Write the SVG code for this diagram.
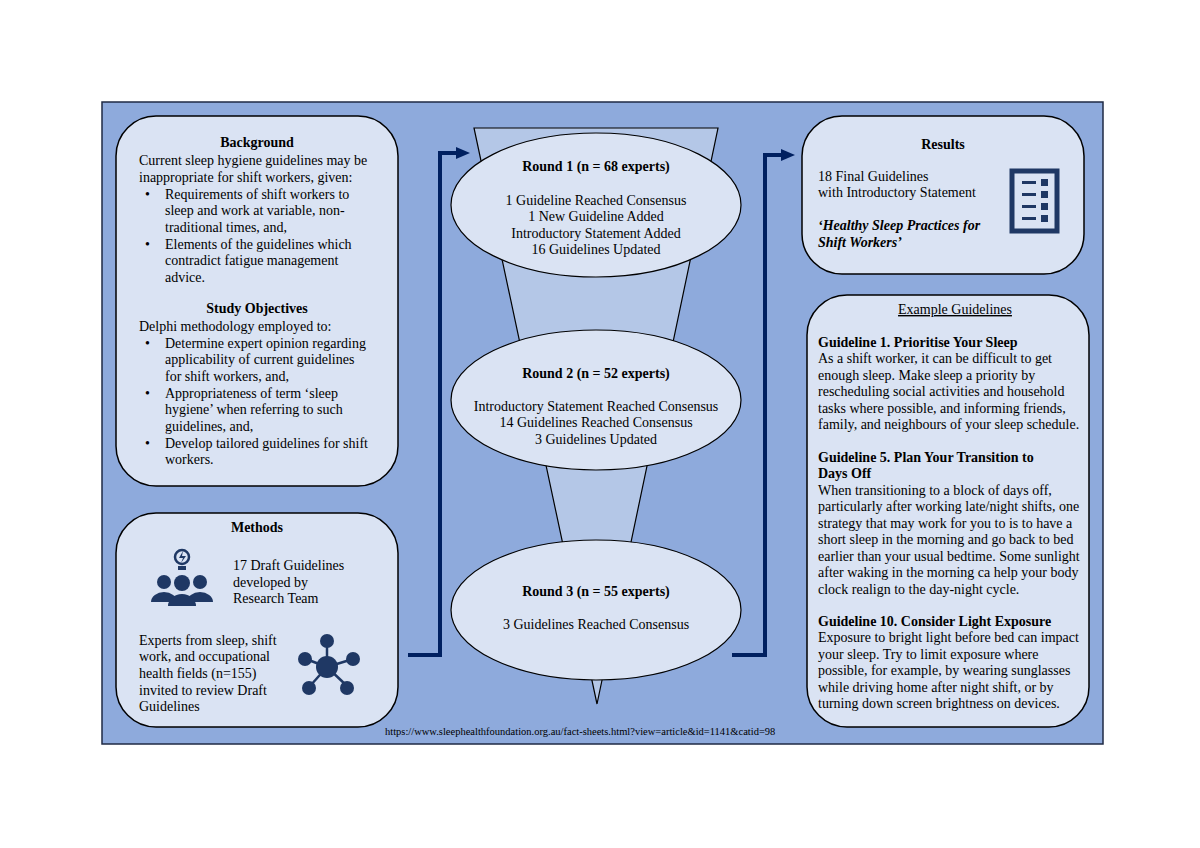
<svg xmlns="http://www.w3.org/2000/svg" width="1200" height="848" viewBox="0 0 1200 848">
<style>
text{font-family:"Liberation Serif",serif;font-size:14px;fill:#000}
.b{font-weight:bold}
.c{text-anchor:middle}
.box{fill:#dae3f3;stroke:#000;stroke-width:1.5}
.el{fill:#dae3f3;stroke:#000;stroke-width:1.2}
.ic{fill:#1f3864}
.conn{fill:none;stroke:#002060;stroke-width:4}
</style>
<defs><marker id="ah" markerWidth="14" markerHeight="14" refX="2" refY="7" orient="auto" markerUnits="userSpaceOnUse"><path d="M0,1 L14,7 L0,13 z" fill="#002060"/></marker></defs>
<rect width="1200" height="848" fill="#fff"/>
<rect x="102" y="102" width="1001" height="642" fill="#8eaadc" stroke="#1f2a44" stroke-width="1.5"/>
<polygon points="474,128 718,128 597,704" fill="#b4c7e7" stroke="#000" stroke-width="1.2"/>
<g id="connectors">
<path class="conn" d="M408,655 H440 V153 H458" marker-end="url(#ah)"/>
<path class="conn" d="M732,655 H765 V155 H783" marker-end="url(#ah)"/>
</g>
<g id="background">
<rect class="box" x="116" y="116" width="282" height="370" rx="40"/>
<text class="b c" x="257" y="147">Background</text>
<text x="139" y="165">Current sleep hygiene guidelines may be</text>
<text x="139" y="182">inappropriate for shift workers, given:</text>
<text x="145" y="199">•</text><text x="165" y="199">Requirements of shift workers to</text>
<text x="165" y="215">sleep and work at variable, non-</text>
<text x="165" y="232">traditional times, and,</text>
<text x="145" y="249">•</text><text x="165" y="249">Elements of the guidelines which</text>
<text x="165" y="265">contradict fatigue management</text>
<text x="165" y="282">advice.</text>
<text class="b c" x="257" y="313">Study Objectives</text>
<text x="139" y="331">Delphi methodology employed to:</text>
<text x="145" y="348">•</text><text x="165" y="348">Determine expert opinion regarding</text>
<text x="165" y="364">applicability of current guidelines</text>
<text x="165" y="381">for shift workers, and,</text>
<text x="145" y="398">•</text><text x="165" y="398">Appropriateness of term ‘sleep</text>
<text x="165" y="414">hygiene’ when referring to such</text>
<text x="165" y="431">guidelines, and,</text>
<text x="145" y="448">•</text><text x="165" y="448">Develop tailored guidelines for shift</text>
<text x="165" y="464">workers.</text>
</g>
<g id="methods">
<rect class="box" x="116" y="513" width="282" height="214" rx="40"/>
<text class="b c" x="257" y="532">Methods</text>
<g class="ic">
<circle cx="182" cy="557" r="7" fill="none" stroke="#1f3864" stroke-width="2.5"/>
<rect x="178" y="566" width="8" height="4"/>
<path d="M183,551 L179,558 H183 L181,563 L186,556 H182 z"/>
<circle cx="164" cy="582" r="7"/><circle cx="200" cy="582" r="7"/><circle cx="182" cy="583" r="8"/>
<path d="M151,602 a13,10 0 0 1 26,0 z"/><path d="M187,602 a13,10 0 0 1 26,0 z"/>
<path d="M168,606 a14,12 0 0 1 28,0 z"/>
</g>
<text x="233" y="570">17 Draft Guidelines</text>
<text x="233" y="587">developed by</text>
<text x="233" y="603">Research Team</text>
<text x="139" y="645">Experts from sleep, shift</text>
<text x="139" y="661">work, and occupational</text>
<text x="139" y="678">health fields (n=155)</text>
<text x="139" y="695">invited to review Draft</text>
<text x="139" y="711">Guidelines</text>
<g stroke="#1f3864" stroke-width="2.5">
<line x1="327" y1="667" x2="327" y2="643"/><line x1="327" y1="667" x2="306" y2="659"/><line x1="327" y1="667" x2="353" y2="659"/>
<line x1="327" y1="667" x2="310" y2="686"/><line x1="327" y1="667" x2="347" y2="686"/>
</g>
<g class="ic">
<circle cx="327" cy="667" r="11"/><circle cx="327" cy="641" r="7"/><circle cx="305" cy="659" r="7"/><circle cx="353" cy="659" r="7"/><circle cx="309" cy="688" r="7"/><circle cx="347" cy="688" r="7"/>
</g>
</g>
<g id="round1">
<ellipse class="el" cx="596" cy="205" rx="145" ry="72"/>
<text class="b c" x="596" y="171">Round 1 (n = 68 experts)</text>
<text class="c" x="596" y="205">1 Guideline Reached Consensus</text>
<text class="c" x="596" y="221">1 New Guideline Added</text>
<text class="c" x="596" y="238">Introductory Statement Added</text>
<text class="c" x="596" y="254">16 Guidelines Updated</text>
</g>
<g id="round2">
<ellipse class="el" cx="596" cy="400" rx="145" ry="70"/>
<text class="b c" x="596" y="378">Round 2 (n = 52 experts)</text>
<text class="c" x="596" y="411">Introductory Statement Reached Consensus</text>
<text class="c" x="596" y="427">14 Guidelines Reached Consensus</text>
<text class="c" x="596" y="444">3 Guidelines Updated</text>
</g>
<g id="round3">
<ellipse class="el" cx="596" cy="610" rx="145" ry="70"/>
<text class="b c" x="596" y="596">Round 3 (n = 55 experts)</text>
<text class="c" x="596" y="629">3 Guidelines Reached Consensus</text>
</g>
<g id="results">
<rect class="box" x="802" y="116" width="282" height="158" rx="40"/>
<text class="b c" x="943" y="149">Results</text>
<text x="818" y="181">18 Final Guidelines</text>
<text x="818" y="197">with Introductory Statement</text>
<text x="818" y="230" font-style="italic" class="b">‘Healthy Sleep Practices for</text>
<text x="818" y="247" font-style="italic" class="b">Shift Workers’</text>
<rect x="1012" y="171" width="45" height="60" fill="none" stroke="#1f3864" stroke-width="5"/>
<g class="ic">
<rect x="1022" y="181" width="14" height="3"/><rect x="1041" y="179" width="7" height="7"/>
<rect x="1022" y="193" width="14" height="3"/><rect x="1041" y="191" width="7" height="7"/>
<rect x="1022" y="205" width="14" height="3"/><rect x="1041" y="203" width="7" height="7"/>
<rect x="1022" y="217" width="14" height="3"/><rect x="1041" y="215" width="7" height="7"/>
</g>
</g>
<g id="examples">
<rect class="box" x="807" y="295" width="282" height="432" rx="40"/>
<text class="c" x="955" y="314" text-decoration="underline">Example Guidelines</text>
<text class="b" x="818" y="347">Guideline 1. Prioritise Your Sleep</text>
<text x="818" y="363">As a shift worker, it can be difficult to get</text>
<text x="818" y="380">enough sleep. Make sleep a priority by</text>
<text x="818" y="396">rescheduling social activities and household</text>
<text x="818" y="413">tasks where possible, and informing friends,</text>
<text x="818" y="429">family, and neighbours of your sleep schedule.</text>
<text class="b" x="818" y="462">Guideline 5. Plan Your Transition to</text>
<text class="b" x="818" y="478">Days Off</text>
<text x="818" y="495">When transitioning to a block of days off,</text>
<text x="818" y="511">particularly after working late/night shifts, one</text>
<text x="818" y="528">strategy that may work for you to is to have a</text>
<text x="818" y="544">short sleep in the morning and go back to bed</text>
<text x="818" y="561">earlier than your usual bedtime. Some sunlight</text>
<text x="818" y="577">after waking in the morning ca help your body</text>
<text x="818" y="594">clock realign to the day-night cycle.</text>
<text class="b" x="818" y="626">Guideline 10. Consider Light Exposure</text>
<text x="818" y="642">Exposure to bright light before bed can impact</text>
<text x="818" y="659">your sleep. Try to limit exposure where</text>
<text x="818" y="675">possible, for example, by wearing sunglasses</text>
<text x="818" y="692">while driving home after night shift, or by</text>
<text x="818" y="708">turning down screen brightness on devices.</text>
</g>
<text x="385" y="735" style="font-size:10.5px">https://www.sleephealthfoundation.org.au/fact-sheets.html?view=article&amp;id=1141&amp;catid=98</text>
</svg>
